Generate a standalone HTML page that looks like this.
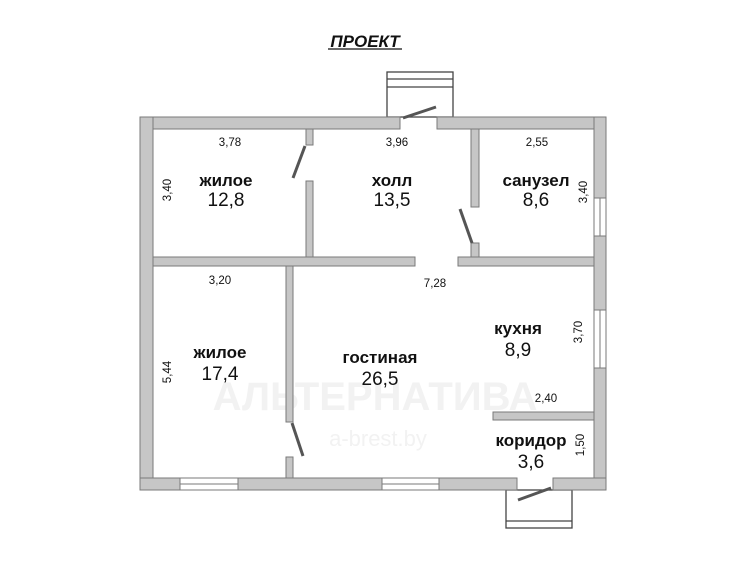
<!DOCTYPE html>
<html><head><meta charset="utf-8"><style>
html,body{margin:0;padding:0;background:#fff;}
svg{display:block;font-family:"Liberation Sans",Arial,sans-serif;}
.w{fill:#c6c6c6;stroke:#7a7a7a;stroke-width:1;}
.d{font-size:11.5px;fill:#111;text-anchor:middle;}
.r{font-size:17px;font-weight:bold;fill:#111;text-anchor:middle;}
.n{font-size:19px;fill:#111;text-anchor:middle;}
.win{fill:#fff;stroke:#7a7a7a;stroke-width:1;}
.leaf{stroke:#555;stroke-width:3;fill:none;}
.ln{stroke:#444;stroke-width:1.3;fill:#fff;}
</style></head><body>
<svg width="750" height="561" viewBox="0 0 750 561">
<rect width="750" height="561" fill="#fff"/>
<text x="365" y="47" font-size="17" font-weight="bold" font-style="italic" text-anchor="middle" fill="#111">ПРОЕКТ</text>
<line x1="328" y1="49" x2="402" y2="49" stroke="#111" stroke-width="1.3"/>
<!-- watermark -->
<text x="375" y="410" font-size="40" font-weight="bold" fill="#f2f2f2" text-anchor="middle">АЛЬТЕРНАТИВА</text>
<text x="378" y="446" font-size="22" fill="#f2f2f2" text-anchor="middle">a-brest.by</text>
<!-- porches -->
<rect class="ln" x="387" y="72" width="66" height="45"/>
<line x1="387" y1="79" x2="453" y2="79" stroke="#444" stroke-width="1.2"/>
<line x1="387" y1="87" x2="453" y2="87" stroke="#444" stroke-width="1.2"/>
<rect class="ln" x="506" y="490" width="66" height="38"/>
<line x1="506" y1="521" x2="572" y2="521" stroke="#444" stroke-width="1.2"/>
<!-- outer walls -->
<rect class="w" x="140" y="117" width="260" height="12"/>
<rect class="w" x="437" y="117" width="169" height="12"/>
<rect class="w" x="140" y="117" width="13" height="373"/>
<rect class="w" x="594" y="117" width="12" height="373"/>
<rect class="w" x="140" y="478" width="377" height="12"/>
<rect class="w" x="553" y="478" width="53" height="12"/>
<!-- windows -->
<rect class="win" x="594" y="198" width="12" height="38"/><line x1="600" y1="198" x2="600" y2="236" stroke="#7a7a7a"/>
<rect class="win" x="594" y="310" width="12" height="58"/><line x1="600" y1="310" x2="600" y2="368" stroke="#7a7a7a"/>
<rect class="win" x="180" y="478" width="58" height="12"/><line x1="180" y1="484" x2="238" y2="484" stroke="#7a7a7a"/>
<rect class="win" x="382" y="478" width="57" height="12"/><line x1="382" y1="484" x2="439" y2="484" stroke="#7a7a7a"/>
<!-- inner walls -->
<rect class="w" x="306" y="129" width="7" height="16"/>
<rect class="w" x="306" y="181" width="7" height="76"/>
<rect class="w" x="153" y="257" width="262" height="9"/>
<rect class="w" x="458" y="257" width="136" height="9"/>
<rect class="w" x="471" y="129" width="8" height="78"/>
<rect class="w" x="471" y="243" width="8" height="14"/>
<rect class="w" x="286" y="266" width="7" height="156"/>
<rect class="w" x="286" y="457" width="7" height="21"/>
<rect class="w" x="493" y="412" width="101" height="8"/>
<!-- door leaves -->
<line class="leaf" x1="403" y1="118" x2="436" y2="107"/>
<line class="leaf" x1="293" y1="178" x2="305" y2="146"/>
<line class="leaf" x1="460" y1="209" x2="472" y2="243"/>
<line class="leaf" x1="292" y1="423" x2="303" y2="456"/>
<line class="leaf" x1="518" y1="500" x2="551" y2="488"/>
<!-- dims -->
<text class="d" x="230" y="146">3,78</text>
<text class="d" x="397" y="146">3,96</text>
<text class="d" x="537" y="146">2,55</text>
<text class="d" x="220" y="284">3,20</text>
<text class="d" x="435" y="287">7,28</text>
<text class="d" x="546" y="402">2,40</text>
<text class="d" transform="translate(171,190) rotate(-90)">3,40</text>
<text class="d" transform="translate(587,192) rotate(-90)">3,40</text>
<text class="d" transform="translate(582,332) rotate(-90)">3,70</text>
<text class="d" transform="translate(171,372) rotate(-90)">5,44</text>
<text class="d" transform="translate(584,445) rotate(-90)">1,50</text>
<!-- rooms -->
<text class="r" x="226" y="186">жилое</text><text class="n" x="226" y="206">12,8</text>
<text class="r" x="392" y="186">холл</text><text class="n" x="392" y="206" fill="#333">13,5</text>
<text class="r" x="536" y="186">санузел</text><text class="n" x="536" y="206">8,6</text>
<text class="r" x="518" y="334">кухня</text><text class="n" x="518" y="356">8,9</text>
<text class="r" x="220" y="358">жилое</text><text class="n" x="220" y="380">17,4</text>
<text class="r" x="380" y="363">гостиная</text><text class="n" x="380" y="385">26,5</text>
<text class="r" x="531" y="446">коридор</text><text class="n" x="531" y="468">3,6</text>
</svg>
</body></html>
